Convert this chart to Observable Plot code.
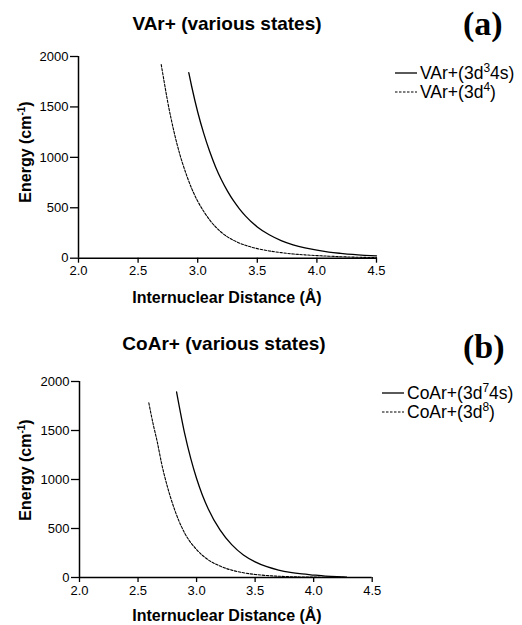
<!DOCTYPE html>
<html><head><meta charset="utf-8">
<script src="https://cdn.jsdelivr.net/npm/d3@7"></script>
<script src="https://cdn.jsdelivr.net/npm/@observablehq/plot@0.6"></script>
<style>
html,body{margin:0;padding:0;background:#fff;}
#wrap{position:relative;width:522px;height:625px;overflow:hidden;background:#fff;}
#wrap svg{position:absolute;left:0;}
</style></head><body><div id="wrap"></div>
<script>
// ---- data ----
const xTicks = [2.0, 2.5, 3.0, 3.5, 4.0, 4.5];
const yTicks = [0, 500, 1000, 1500, 2000];

// Panel (a): VAr+
const varTitle = "VAr+ (various states)";
const varTag = "(a)";
const var3d34sR = [2.925, 2.95, 3.00, 3.05, 3.10, 3.15, 3.20, 3.25, 3.30, 3.35, 3.40, 3.50, 3.60, 3.70, 3.80, 3.90, 4.00, 4.10, 4.20, 4.30, 4.40, 4.50];
const var3d34sE = [1840, 1700, 1450, 1240, 1060, 905, 775, 665, 570, 490, 420, 310, 232, 175, 133, 102, 79, 61, 48, 37, 29, 23];
const var3d4R = [2.694, 2.72, 2.75, 2.80, 2.85, 2.90, 2.95, 3.00, 3.05, 3.10, 3.20, 3.30, 3.40, 3.50, 3.60, 3.70, 3.80, 3.90, 4.00, 4.10, 4.20, 4.30, 4.40, 4.50];
const var3d4E = [1920, 1740, 1540, 1260, 1030, 845, 690, 565, 465, 380, 255, 178, 128, 95, 72, 55, 42, 33, 26, 20, 15, 11, 8, 6];
const varLegend = [
  {pre: "VAr+(3d", sup: "3", post: "4s)", dashed: false},
  {pre: "VAr+(3d", sup: "4", post: ")", dashed: true}
];

// Panel (b): CoAr+
const coarTitle = "CoAr+ (various states)";
const coarTag = "(b)";
const coar3d74sR = [2.829, 2.90, 2.95, 3.00, 3.05, 3.10, 3.20, 3.30, 3.40, 3.50, 3.60, 3.70, 3.80, 3.90, 4.00, 4.10, 4.20, 4.28];
const coar3d74sE = [1895, 1460, 1215, 1010, 840, 700, 485, 335, 230, 160, 110, 76, 52, 36, 25, 15, 8, 4];
const coar3d8R = [2.592, 2.63, 2.664, 2.70, 2.75, 2.80, 2.85, 2.90, 3.00, 3.10, 3.20, 3.30, 3.40, 3.50, 3.60, 3.70, 3.80, 4.00, 4.28];
const coar3d8E = [1783, 1560, 1385, 1170, 930, 735, 575, 450, 285, 180, 117, 75, 48, 31, 20, 13, 8, 4, 1];
const coarLegend = [
  {pre: "CoAr+(3d", sup: "7", post: "4s)", dashed: false},
  {pre: "CoAr+(3d", sup: "8", post: ")", dashed: true}
];

const xLabel = "Internuclear Distance (Å)";
const yLabelPre = "Energy (cm", yLabelSup = "-1", yLabelPost = ")";

const SANS = '"Liberation Sans", Arial, sans-serif';
const DASH = "2.5,1.5";

function drawPanel(cfg) {
  const data = cfg.series.flatMap(s => s.r.map((r, i) => ({r, e: s.e[i], key: s.key})));
  const plot = Plot.plot({
    width: 522, height: cfg.height,
    marginTop: cfg.mt, marginBottom: cfg.mb, marginLeft: cfg.ml, marginRight: cfg.mr,
    style: {fontFamily: SANS, fontSize: "13px", color: "#000", background: "#fff", overflow: "visible"},
    x: {domain: [2, 4.5]},
    y: {domain: [0, 2000]},
    marks: [
      Plot.axisX({ticks: xTicks, tickFormat: ".1f", tickSize: 5, tickPadding: 3, label: null, strokeWidth: 1.3}),
      Plot.axisY({ticks: yTicks, tickFormat: "d", tickSize: 8, tickPadding: 2, label: null, strokeWidth: 1.3}),
      Plot.ruleY([0], {stroke: "#000", strokeWidth: 1.5}),
      Plot.ruleX([2], {stroke: "#000", strokeWidth: 1.5}),
      ...cfg.series.map(s => Plot.line(data.filter(d => d.key === s.key), {
        x: "r", y: "e", stroke: "#000", strokeWidth: s.dashed ? 1.1 : 1.3,
        ...(s.dashed ? {strokeDasharray: DASH} : {}), curve: "monotone-x"
      }))
    ]
  });
  plot.style.top = cfg.top + "px";
  document.getElementById("wrap").appendChild(plot);
  const svg = d3.select(plot);
  const g = svg.append("g").attr("fill", "#000").attr("font-family", SANS).attr("text-anchor", "start");

  g.append("text").attr("x", cfg.titleX).attr("y", cfg.titleY).attr("text-anchor", "middle")
    .attr("font-weight", "bold").attr("font-size", 19).text(cfg.title);
  g.append("text").attr("x", cfg.tagX).attr("y", cfg.tagY).attr("text-anchor", "start")
    .attr("font-family", '"Liberation Serif", "Times New Roman", serif')
    .attr("font-weight", "bold").attr("font-size", 34).text(cfg.tag);

  // y label
  const yl = g.append("text").attr("transform", `translate(${cfg.ylX},${cfg.ylY}) rotate(-90)`)
    .attr("text-anchor", "middle").attr("font-weight", "bold").attr("font-size", 16);
  yl.append("tspan").text(yLabelPre);
  yl.append("tspan").attr("dy", -6).attr("font-size", 10).text(yLabelSup);
  yl.append("tspan").attr("dy", 6).text(yLabelPost);

  // x label
  g.append("text").attr("x", cfg.xlX).attr("y", cfg.xlY).attr("text-anchor", "middle")
    .attr("font-weight", "bold").attr("font-size", 16).text(xLabel);

  // legend
  cfg.legend.forEach((item, i) => {
    const y = cfg.legY + i * cfg.legStep;
    g.append("line").attr("x1", cfg.legX).attr("x2", cfg.legX + 22).attr("y1", y).attr("y2", y)
      .attr("stroke", "#000").attr("stroke-width", item.dashed ? 1.1 : 1.3)
      .attr("stroke-dasharray", item.dashed ? DASH : null);
    const t = g.append("text").attr("x", cfg.legX + 25).attr("y", y + 6)
      .attr("text-anchor", "start").attr("font-size", 17.5);
    t.append("tspan").text(item.pre);
    t.append("tspan").attr("dy", -7).attr("font-size", 12).text(item.sup);
    t.append("tspan").attr("dy", 7).text(item.post);
  });
}

drawPanel({
  top: 0, height: 312, mt: 56, mb: 54.3, ml: 78, mr: 146,
  series: [
    {key: "s", r: var3d34sR, e: var3d34sE, dashed: false},
    {key: "d", r: var3d4R, e: var3d4E, dashed: true}
  ],
  title: varTitle, titleX: 227, titleY: 30,
  tag: varTag, tagX: 463, tagY: 35,
  ylX: 31, ylY: 152, xlX: 227, xlY: 303,
  legend: varLegend, legX: 395, legY: 73, legStep: 19
});

drawPanel({
  top: 320, height: 305, mt: 61, mb: 48, ml: 79, mr: 150.3,
  series: [
    {key: "s", r: coar3d74sR, e: coar3d74sE, dashed: false},
    {key: "d", r: coar3d8R, e: coar3d8E, dashed: true}
  ],
  title: coarTitle, titleX: 224, titleY: 30,
  tag: coarTag, tagX: 463, tagY: 38,
  ylX: 31, ylY: 150, xlX: 227, xlY: 301,
  legend: coarLegend, legX: 382, legY: 73, legStep: 19
});
</script>
</body></html>
